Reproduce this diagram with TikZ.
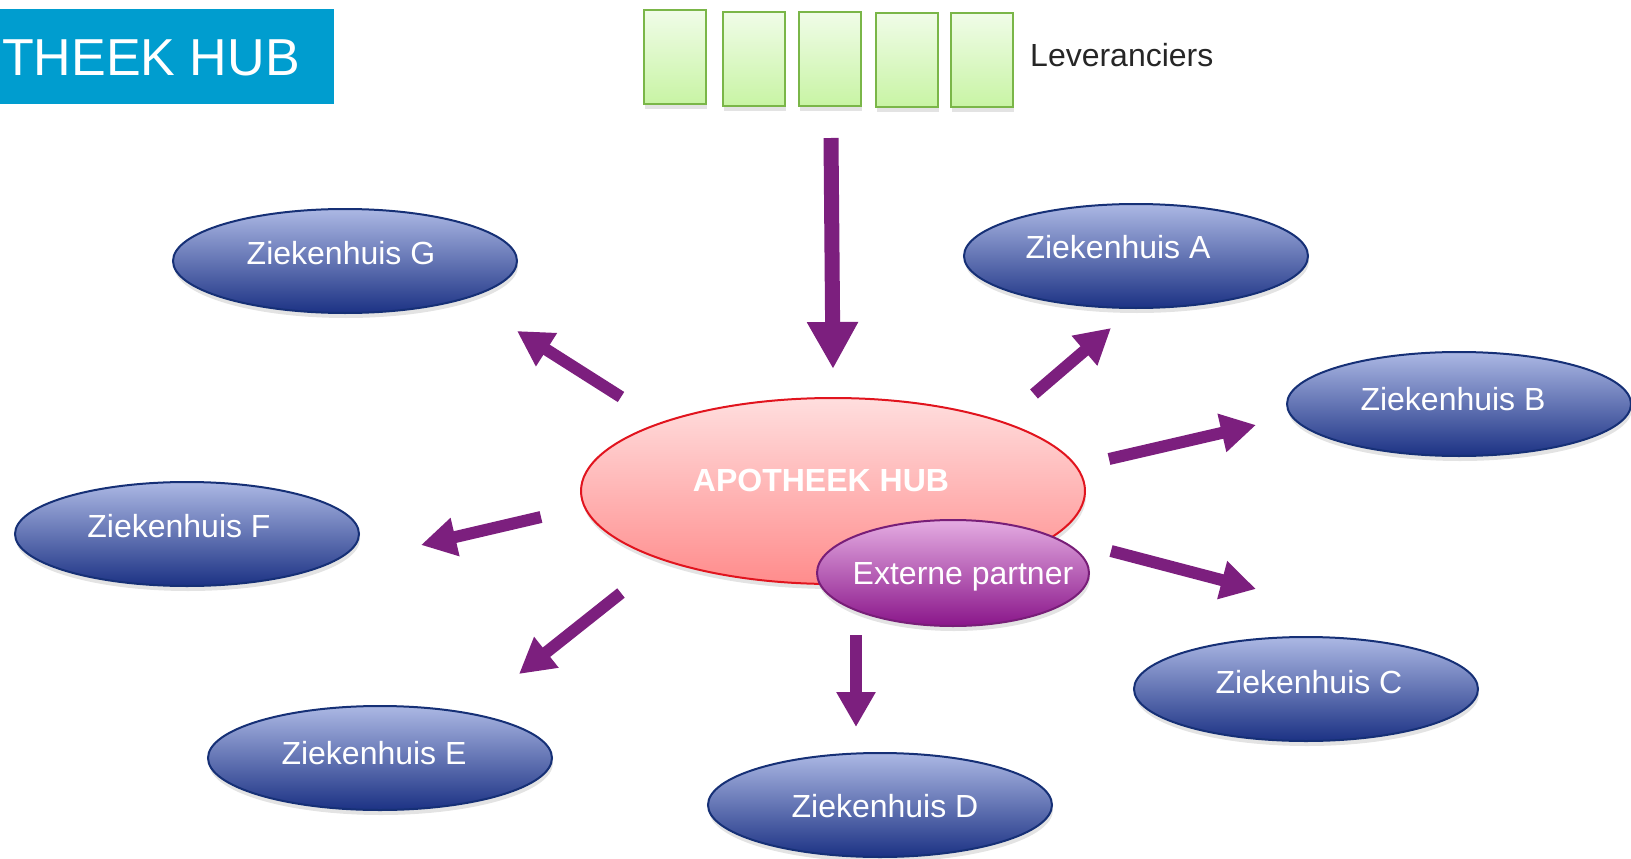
\documentclass[tikz,border=0pt]{standalone}
\usepackage{fontspec}
\setmainfont{Liberation Sans}
\usetikzlibrary{arrows.meta,shadows,shapes.geometric}

\definecolor{titelblauw}{RGB}{0,157,207}
\definecolor{pijlpaars}{RGB}{124,31,126}
\definecolor{zkhboven}{RGB}{172,184,228}
\definecolor{zkhonder}{RGB}{28,50,132}
\definecolor{zkhrand}{RGB}{22,48,118}
\definecolor{levrand}{RGB}{122,182,72}
\definecolor{levboven}{RGB}{240,252,232}
\definecolor{levonder}{RGB}{200,244,164}
\definecolor{hubboven}{RGB}{255,222,222}
\definecolor{hubonder}{RGB}{255,140,140}
\definecolor{hubrand}{RGB}{225,20,30}
\definecolor{extboven}{RGB}{228,172,226}
\definecolor{extonder}{RGB}{138,22,138}
\definecolor{extrand}{RGB}{120,30,120}

\begin{document}
\begin{tikzpicture}[x=1pt,y=-1pt,
  schaduw/.style={drop shadow={opacity=0.22,shadow xshift=1pt,shadow yshift=-5pt}},
  zkh/.style={ellipse,draw=zkhrand,line width=2pt,top color=zkhboven,bottom color=zkhonder,
    minimum width=344pt,minimum height=104pt,inner sep=0pt,schaduw},
  zkhtekst/.style={text=white,font=\fontsize{32}{38}\selectfont,inner sep=0pt},
  lev/.style={draw=levrand,line width=2.5pt,top color=levboven,bottom color=levonder,
    minimum width=62pt,minimum height=94pt,inner sep=0pt,schaduw},
  pijl/.style={pijlpaars,line width=12pt,-{Triangle[width=37pt,length=35pt]}},
  grotepijl/.style={pijlpaars,line width=15pt,-{Triangle[width=48pt,length=47pt]}}]
\useasboundingbox (0,0) rectangle (1631,859);

% titel
\fill[titelblauw] (0,9) rectangle (334,104);
\node[anchor=base east,text=white,font=\fontsize{52}{62}\selectfont,inner sep=0pt] (titel) at (300,76) {THEEK HUB};

% leveranciers
\node[lev] (lev1) at (675,57) {};
\node[lev] (lev2) at (754,59) {};
\node[lev] (lev3) at (830,59) {};
\node[lev] (lev4) at (907,60) {};
\node[lev] (lev5) at (982,60) {};
\node[anchor=west,font=\fontsize{32}{38}\selectfont,text=black!85,inner sep=0pt] (levtekst) at (1030,55) {Leveranciers};

% ziekenhuizen
\node[zkh,label={[zkhtekst,xshift=-18pt,yshift=9pt]center:Ziekenhuis A}] (zA) at (1136,256) {};
\node[zkh,label={[zkhtekst,xshift=-6pt,yshift=5pt]center:Ziekenhuis B}] (zB) at (1459,404) {};
\node[zkh,label={[zkhtekst,xshift=3pt,yshift=7pt]center:Ziekenhuis C}] (zC) at (1306,689) {};
\node[zkh,label={[zkhtekst,xshift=5pt,yshift=-1pt]center:Ziekenhuis D}] (zD) at (880,805) {};
\node[zkh,label={[zkhtekst,xshift=-6pt,yshift=5pt]center:Ziekenhuis E}] (zE) at (380,758) {};
\node[zkh,label={[zkhtekst,xshift=-8pt,yshift=8pt]center:Ziekenhuis F}] (zF) at (187,534) {};
\node[zkh,label={[zkhtekst,xshift=-4pt,yshift=8pt]center:Ziekenhuis G}] (zG) at (345,261) {};

% hub
\node[ellipse,draw=hubrand,line width=2pt,top color=hubboven,bottom color=hubonder,
  minimum width=504pt,minimum height=186pt,inner sep=0pt,schaduw,
  label={[zkhtekst,font=\fontsize{32}{38}\selectfont\bfseries,xshift=-12pt,yshift=11pt]center:APOTHEEK HUB}] (hub) at (833,491) {};
\node[ellipse,draw=extrand,line width=2pt,top color=extboven,bottom color=extonder,
  minimum width=272pt,minimum height=106pt,inner sep=0pt,schaduw,
  label={[zkhtekst,xshift=10pt,yshift=-4pt]center:Externe partner}] (ext) at (953,573) {};

% pijlen
\coordinate (levuit) at (831,138);
\coordinate (hubin) at (833,369);
\draw[grotepijl] (levuit) -- (hubin);

\coordinate (uitA) at (1034,394); \coordinate (naarA) at (1111,328);
\coordinate (uitB) at (1109,459); \coordinate (naarB) at (1256,425);
\coordinate (uitC) at (1111,551); \coordinate (naarC) at (1256,589);
\coordinate (uitD) at (856,635);  \coordinate (naarD) at (856,727);
\coordinate (uitE) at (621,593);  \coordinate (naarE) at (519,674);
\coordinate (uitF) at (541,517);  \coordinate (naarF) at (421,545);
\coordinate (uitG) at (621,397);  \coordinate (naarG) at (517,331);
\foreach \z in {A,B,C,D,E,F,G}
  \draw[pijl] (uit\z) -- (naar\z);
\end{tikzpicture}
\end{document}
